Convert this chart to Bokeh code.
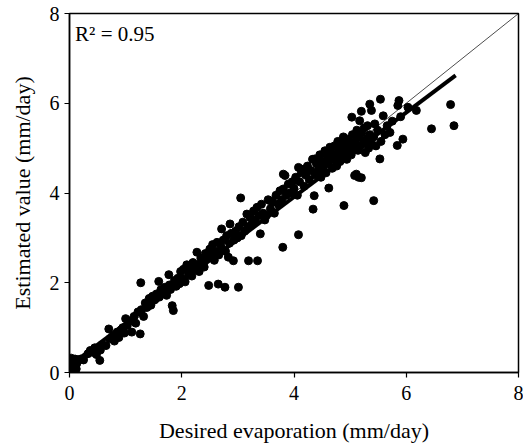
from bokeh.plotting import figure
from bokeh.models import Label, Range1d, FixedTicker
from bokeh.embed import file_html
from bokeh.resources import INLINE

# Desired evaporation (mm/day)
desired = [
    0.00, 0.02, 0.04, 0.05, 0.07, 0.08, 0.10, 0.12, 0.03, 0.13, 0.06, 0.15,
    0.20, 0.25, 0.33, 0.37, 0.42, 0.45, 0.48, 0.54, 0.55, 0.58, 0.65, 0.70, 0.72, 0.78, 0.80, 0.85, 0.88, 0.92, 0.95, 0.98,
    1.00, 1.03, 1.08, 1.11, 1.15, 1.18, 1.22, 1.26, 1.27, 1.28, 1.32, 1.35, 1.38, 1.42, 1.45, 1.48, 1.52, 1.55, 1.59, 1.60,
    1.63, 1.67, 1.70, 1.73, 1.77, 1.78, 1.80, 1.83, 1.85, 1.87, 1.90, 1.93, 1.96, 1.98,
    2.00, 2.03, 2.06, 2.09, 2.12, 2.15, 2.18, 2.20, 2.23, 2.27, 2.28, 2.31, 2.34, 2.37, 2.40, 2.42, 2.45, 2.48, 2.50, 2.52,
    2.55, 2.58, 2.60, 2.63, 2.65, 2.66, 2.70, 2.71, 2.74, 2.77, 2.78, 2.80, 2.83, 2.85, 2.86, 2.88, 2.92, 2.93, 2.96, 2.99, 3.01,
    3.02, 3.05, 3.06, 3.09, 3.12, 3.16, 3.18, 3.19, 3.22, 3.25, 3.28, 3.31, 3.34, 3.35, 3.37, 3.40, 3.42, 3.45, 3.48, 3.51,
    3.54, 3.57, 3.58, 3.62, 3.65, 3.68, 3.72, 3.75, 3.78, 3.80, 3.81, 3.81, 3.84, 3.86, 3.90, 3.93, 3.97,
    4.00, 4.03, 4.06, 4.08, 4.08, 4.10, 4.13, 4.17, 4.18, 4.21, 4.24, 4.27, 4.30, 4.33, 4.34, 4.36, 4.37, 4.38, 4.40, 4.43,
    4.46, 4.48, 4.50, 4.52, 4.55, 4.57, 4.59, 4.62, 4.62, 4.64, 4.66, 4.68, 4.70, 4.72, 4.74, 4.76, 4.78, 4.80, 4.82, 4.84,
    4.86, 4.88, 4.89, 4.90, 4.92, 4.94, 4.96, 4.98,
    5.00, 5.02, 5.03, 5.04, 5.06, 5.08, 5.09, 5.11, 5.12, 5.14, 5.15, 5.16, 5.17, 5.18, 5.20, 5.20, 5.21, 5.23, 5.25, 5.27,
    5.29, 5.31, 5.33, 5.35, 5.35, 5.38, 5.38, 5.42, 5.42, 5.44, 5.46, 5.49, 5.53, 5.54, 5.55, 5.59, 5.62, 5.66, 5.71, 5.75,
    5.84, 5.85, 5.87, 5.90, 5.94, 6.03, 6.18, 6.45, 6.79, 6.85,
]

# Estimated value (mm/day)
estimated = [
    0.05, 0.18, 0.10, 0.25, 0.02, 0.15, 0.30, 0.08, 0.32, 0.20, 0.12, 0.28,
    0.30, 0.28, 0.42, 0.49, 0.45, 0.55, 0.40, 0.27, 0.50, 0.62, 0.60, 0.97, 0.75, 0.82, 0.70, 0.90, 0.78, 0.95, 1.00, 0.88,
    1.20, 1.05, 1.15, 0.90, 1.25, 1.10, 1.35, 0.86, 2.00, 1.40, 1.25, 1.55, 1.45, 1.65, 1.50, 1.70, 1.62, 1.75, 2.03, 1.68,
    1.85, 1.78, 1.90, 1.72, 2.18, 1.95, 1.85, 1.49, 1.38, 2.05, 1.92, 2.10, 1.98, 2.25,
    2.10, 2.30, 2.02, 2.40, 2.20, 2.35, 2.15, 2.45, 2.30, 2.68, 2.40, 2.25, 2.55, 2.45, 2.35, 2.65, 2.55, 1.94, 2.75, 2.60,
    2.85, 2.50, 2.70, 2.90, 1.97, 2.62, 2.80, 3.20, 2.95, 1.90, 2.70, 3.05, 2.57, 2.88, 3.31, 3.10, 2.49, 2.95, 3.15, 3.00, 1.90,
    3.25, 3.89, 3.05, 3.35, 3.15, 3.53, 3.25, 2.49, 3.45, 3.30, 3.60, 3.40, 3.68, 2.49, 3.50, 3.09, 3.75, 3.55, 3.40, 3.50,
    3.85, 3.83, 3.65, 3.80, 3.55, 3.95, 3.75, 4.05, 3.85, 2.79, 4.42, 4.09, 4.39, 3.95, 4.20, 4.00, 4.25,
    4.10, 4.35, 3.95, 4.57, 3.07, 4.25, 4.45, 4.53, 4.15, 4.40, 4.60, 4.30, 4.50, 4.75, 3.64, 3.94, 4.76, 4.40, 4.65, 4.50,
    4.85, 4.35, 4.70, 4.55, 4.94, 4.45, 4.80, 4.11, 4.65, 5.02, 4.90, 4.55, 4.75, 5.05, 4.85, 4.60, 5.15, 4.95, 4.70, 5.10,
    4.85, 5.25, 3.72, 4.95, 5.05, 4.75, 5.20, 4.90,
    5.10, 4.85, 5.69, 5.30, 5.00, 4.39, 5.15, 4.42, 5.40, 4.95, 4.35, 5.25, 5.61, 5.05, 5.82, 4.34, 5.35, 5.10, 5.45, 4.90,
    5.20, 5.50, 5.00, 5.98, 5.30, 5.84, 5.10, 3.83, 5.25, 5.54, 5.05, 5.40, 4.76, 6.09, 5.15, 5.72, 5.30, 5.50, 5.35, 5.60,
    5.06, 5.95, 6.06, 5.70, 5.20, 5.91, 5.84, 5.43, 5.97, 5.50,
]

# 1:1 line and fitted regression line
one_to_one_x = [0, 8]
one_to_one_y = [0, 8]
fit_x = [0.0, 6.88]
fit_y = [0.15, 6.62]

ticks = [0, 2, 4, 6, 8]
r2_text = "R\u00b2 = 0.95"

FONT = "Liberation Serif"

p = figure(width=523, height=447, output_backend="svg", toolbar_location=None,
           x_range=Range1d(0, 8), y_range=Range1d(0, 8),
           min_border_left=69, min_border_right=5, min_border_top=13, min_border_bottom=75)

p.xgrid.visible = False
p.ygrid.visible = False
p.outline_line_color = "black"
p.outline_line_width = 1.5
p.background_fill_color = "white"
p.border_fill_color = "white"

for ax in (p.xaxis[0], p.yaxis[0]):
    ax.ticker = FixedTicker(ticks=ticks)
    ax.minor_tick_line_color = None
    ax.major_tick_in = 0
    ax.major_tick_out = 5
    ax.axis_line_color = "black"
    ax.axis_line_width = 1.5
    ax.major_tick_line_color = "black"
    ax.major_tick_line_width = 1.2
    ax.major_label_text_font = FONT
    ax.major_label_text_font_size = "20px"
    ax.major_label_text_color = "black"
    ax.axis_label_text_font = FONT
    ax.axis_label_text_font_size = "22px"
    ax.axis_label_text_font_style = "normal"
    ax.axis_label_text_color = "black"

p.xaxis.axis_label = "Desired evaporation (mm/day)"
p.yaxis.axis_label = "Estimated value (mm/day)"
p.xaxis.major_label_standoff = 8
p.yaxis.major_label_standoff = 5
p.xaxis.axis_label_standoff = 15
p.yaxis.axis_label_standoff = 12

p.line(one_to_one_x, one_to_one_y, line_color="black", line_width=0.7)
p.scatter(desired, estimated, size=8, fill_color="black", line_color="black")
p.line(fit_x, fit_y, line_color="black", line_width=4)

p.add_layout(Label(x=0.1, y=7.82, text=r2_text, text_font=FONT, text_font_size="21px",
                   text_baseline="top", text_color="black"))

open("out.html", "w").write(file_html(p, INLINE))
